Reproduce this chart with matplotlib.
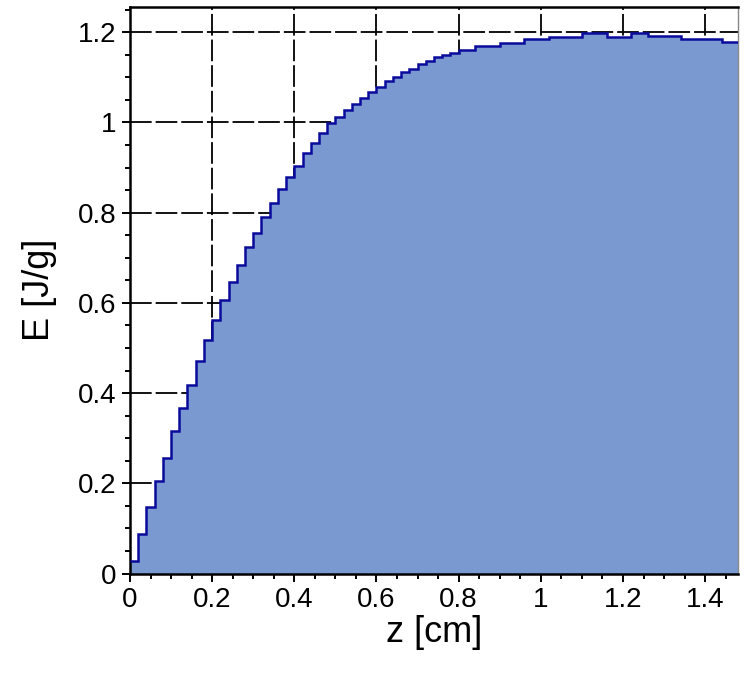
import numpy as np
import matplotlib.pyplot as plt
from matplotlib.ticker import MultipleLocator

plt.rcParams['font.family'] = ['Liberation Sans', 'DejaVu Sans']

# Energy deposited per depth bin (J/g), bins of 0.02 cm starting at z = 0
bin_width = 0.02
E = [0.028, 0.087, 0.147, 0.205, 0.257, 0.315, 0.367, 0.418, 0.472, 0.517,
     0.561, 0.607, 0.646, 0.685, 0.725, 0.756, 0.791, 0.821, 0.853, 0.878,
     0.904, 0.932, 0.955, 0.976, 0.998, 1.012, 1.028, 1.041, 1.054, 1.068,
     1.079, 1.093, 1.100, 1.113, 1.118, 1.130, 1.137, 1.145, 1.150, 1.155,
     1.161, 1.161, 1.170, 1.170, 1.170, 1.177, 1.177, 1.177, 1.184, 1.184,
     1.184, 1.190, 1.190, 1.190, 1.190, 1.199, 1.199, 1.199, 1.190, 1.190,
     1.190, 1.199, 1.199, 1.192, 1.192, 1.192, 1.192, 1.184, 1.184, 1.184,
     1.184, 1.184, 1.178, 1.178]
edges = np.arange(len(E) + 1) * bin_width

fig = plt.figure(figsize=(7.44, 6.73), dpi=100)
ax = fig.add_axes([0.1747, 0.1478, 0.8173, 0.8418])

# filled histogram plus dark outline on top
ax.stairs(E, edges, fill=True, color='#7B99D1', zorder=2)
ax.stairs(E, edges, baseline=None, color='#0A0A9C', lw=1.8, zorder=3)

ax.set_xlim(0, 1.48)
ax.set_ylim(0, 1.256)

ax.xaxis.set_major_locator(MultipleLocator(0.2))
ax.xaxis.set_minor_locator(MultipleLocator(0.05))
ax.yaxis.set_major_locator(MultipleLocator(0.2))
ax.yaxis.set_minor_locator(MultipleLocator(0.05))
ax.xaxis.set_major_formatter(plt.FuncFormatter(lambda v, p: f'{v:g}'))
ax.yaxis.set_major_formatter(plt.FuncFormatter(lambda v, p: f'{v:g}'))

ax.set_axisbelow(True)
ax.grid(True, which='major', color='black', lw=1.3, dashes=(12, 2.2))

ax.tick_params(which='major', direction='out', length=6, width=1.4,
               labelsize=20, pad=4, colors='black')
ax.tick_params(which='minor', direction='out', length=3.5, width=1.4)

for side in ['left', 'bottom', 'top']:
    ax.spines[side].set_linewidth(1.8)
    ax.spines[side].set_color('black')
ax.spines['right'].set_linewidth(1.0)
ax.spines['right'].set_color('#888888')

ax.set_xlabel('z [cm]', fontsize=26, labelpad=1)
ax.set_ylabel('E [J/g]', fontsize=26, labelpad=15)

fig.savefig('out.png', dpi=100)
